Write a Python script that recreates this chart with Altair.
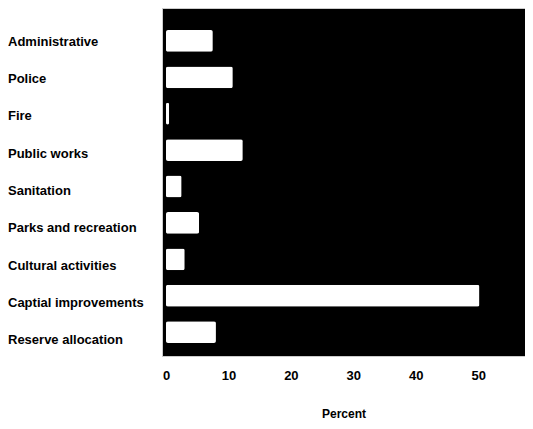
import altair as alt
import pandas as pd

categories = ["Administrative", "Police", "Fire", "Public works", "Sanitation",
              "Parks and recreation", "Cultural activities", "Captial improvements",
              "Reserve allocation"]
percent = [7.5, 10.7, 0.5, 12.3, 2.5, 5.3, 3, 50.2, 8]
x_ticks = [0, 10, 20, 30, 40, 50]

df = pd.DataFrame({"category": categories, "percent": percent})

base = alt.Chart(df)

bars = base.mark_bar(color="white", cornerRadius=2).encode(
    y=alt.Y("category:N", sort=categories,
            scale=alt.Scale(paddingInner=0.4, paddingOuter=0.48, align=0.63),
            axis=None),
    x=alt.X("percent:Q", scale=alt.Scale(domain=[-0.64, 57.5], nice=False, zero=False),
            axis=alt.Axis(values=x_ticks, title="Percent", grid=False, ticks=False, domain=False,
                          labelFont="Liberation Sans", labelFontWeight="bold", labelFontSize=13,
                          labelColor="black", labelPadding=13, titleFont="Liberation Sans",
                          titleFontWeight="bold", titleFontSize=12, titleColor="black",
                          titlePadding=26)),
)

labels = base.mark_text(align="left", baseline="middle", font="Liberation Sans",
                        fontWeight="bold", fontSize=13, color="black").encode(
    y=alt.Y("category:N", sort=categories,
            scale=alt.Scale(type="point", padding=0.671, align=0.68), axis=None),
    x=alt.value(-154),
    text="category:N",
)

chart = alt.layer(bars, labels).resolve_scale(y="independent").properties(
    width=363, height=348, background="white",
    padding={"left": 0, "top": 0, "right": 0, "bottom": 0}
).configure_view(fill="black", stroke="#cccccc", strokeWidth=1)

chart.save("out.html", embed_options={"renderer": "svg", "actions": False})
